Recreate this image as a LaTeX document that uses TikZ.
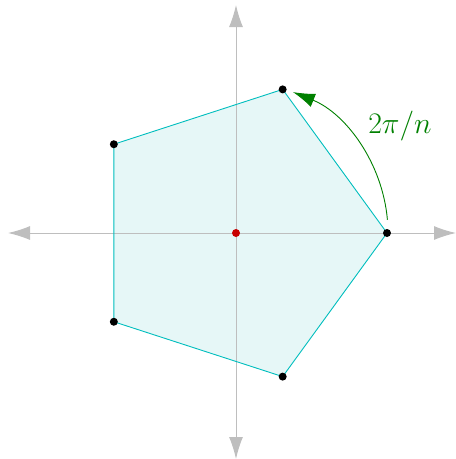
\documentclass[tikz,border=0pt]{standalone}
\usetikzlibrary{arrows.meta,calc}
\definecolor{axisgray}{RGB}{190,190,190}
\definecolor{polyline}{RGB}{0,190,190}
\definecolor{polyfill}{RGB}{230,247,247}
\definecolor{arcgreen}{RGB}{0,128,0}
\definecolor{dotred}{RGB}{200,0,0}
\begin{document}
\begin{tikzpicture}[x=1pt,y=-1pt,
  axis/.style={draw=axisgray,line width=1pt,{Latex[length=22pt,width=14pt]}-{Latex[length=22pt,width=14pt]}},
  poly/.style={draw=polyline,line width=0.9pt},
  vdot/.style={circle,fill=black,inner sep=0pt,minimum size=8pt},
  cdot/.style={circle,fill=dotred,inner sep=0pt,minimum size=8pt},
  anglearc/.style={draw=arcgreen,line width=0.9pt,-{Latex[length=22pt,width=14pt]}},
  lbl/.style={text=arcgreen,font=\Huge}]
\useasboundingbox (0,0) rectangle (456,459);
\coordinate (O) at (236,233);
\coordinate (xl) at (8,233);
\coordinate (xr) at (456,233);
\coordinate (yt) at (236,5);
\coordinate (yb) at (236,459);
\foreach \i in {0,...,4}{
  \coordinate (v\i) at ($(O)+({151*cos(72*\i)},{-151*sin(72*\i)})$);
}
\fill[polyfill] (v0) -- (v1) -- (v2) -- (v3) -- (v4) -- cycle;
\draw[axis] (xl) -- (xr);
\draw[axis] (yt) -- (yb);
\draw[poly] (v0) -- (v1) -- (v2) -- (v3) -- (v4) -- cycle;
\foreach \i in {0,...,4}{ \node[vdot] (d\i) at (v\i) {}; }
\node[cdot] (c) at (O) {};
\coordinate (a0) at ($(O)+({152*cos(5)},{-152*sin(5)})$);
\draw[anglearc] (a0) arc[start angle=-5,end angle=-68,radius=152];
\node[lbl] (l) at (400,126) {\scalebox{1.2}{$2\pi/n$}};
\end{tikzpicture}
\end{document}
